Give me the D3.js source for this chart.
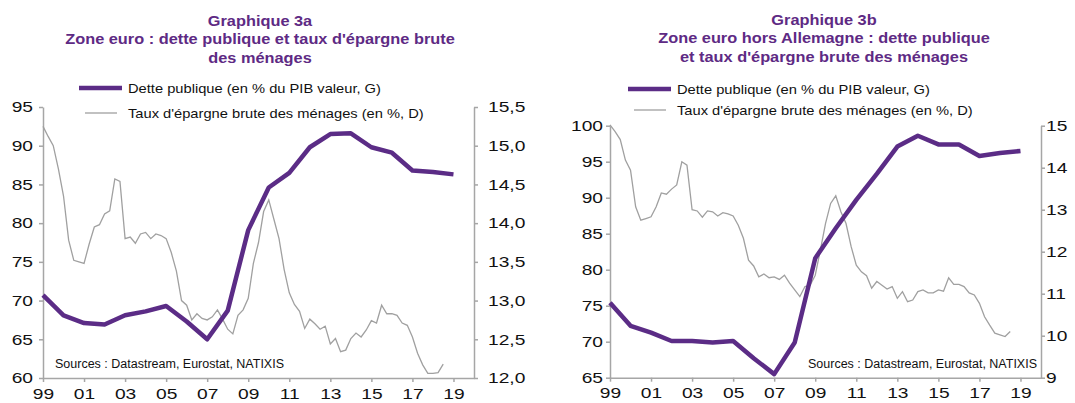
<!DOCTYPE html>
<meta charset="utf-8">
<style>
  body { margin: 0; background: #fff; }
  text { font-family: "Liberation Sans", Arial, sans-serif; fill: #111; }
  .title { font-weight: bold; font-size: 15px; fill: #5e2a84; }
  .legend { font-size: 13px; }
  .src { font-size: 12.5px; }
  .axis path, .axis line { stroke: #a6a6a6; stroke-width: 1.5px; }
  .axis text { font-size: 15px; fill: #111; }
  .debt { fill: none; stroke: #5b2c86; stroke-width: 4.5px; stroke-linejoin: round; }
  .saving { fill: none; stroke: #a0a0a0; stroke-width: 1.3px; }
</style>
<svg width="1075" height="403"></svg>
<script src="https://d3js.org/d3.v7.min.js"></script>
<script>
var svg = d3.select("svg");

// ---- data -------------------------------------------------------------
var years = [1999, 2000, 2001, 2002, 2003, 2004, 2005, 2006, 2007, 2008, 2009,
             2010, 2011, 2012, 2013, 2014, 2015, 2016, 2017, 2018, 2019];
var yearTicks = [1999, 2001, 2003, 2005, 2007, 2009, 2011, 2013, 2015, 2017, 2019];
var firstQuarter = 1999;   // saving series is quarterly, starting 1999Q1

// Graphique 3a : zone euro
var debtEZ = [70.7, 68.1, 67.1, 66.9, 68.1, 68.6, 69.3, 67.3, 65.0, 68.7, 79.1,
              84.6, 86.5, 89.8, 91.5, 91.6, 89.8, 89.1, 86.8, 86.6, 86.3];
var savingEZ = [15.25, 15.12, 15.0, 14.7,
                14.35, 13.78, 13.52, 13.5,
                13.48, 13.73, 13.95, 13.98,
                14.12, 14.16, 14.57, 14.54,
                13.8, 13.82, 13.74, 13.86,
                13.88, 13.8, 13.86, 13.84,
                13.8, 13.62, 13.38, 13.0,
                12.94, 12.75, 12.83, 12.77,
                12.75, 12.79, 12.88, 12.76,
                12.63, 12.57, 12.81, 12.88,
                13.03, 13.48, 13.75, 14.15,
                14.3, 14.05, 13.8, 13.4,
                13.1, 12.95, 12.86, 12.64,
                12.76, 12.7, 12.63, 12.67,
                12.44, 12.51, 12.34, 12.36,
                12.51, 12.58, 12.53, 12.62,
                12.74, 12.71, 12.94, 12.83,
                12.83, 12.81, 12.71, 12.68,
                12.53, 12.32, 12.17, 12.06,
                12.06, 12.07, 12.18];
var ticksLeftEZ = [60, 65, 70, 75, 80, 85, 90, 95];
var ticksRightEZ = [12.0, 12.5, 13.0, 13.5, 14.0, 14.5, 15.0, 15.5];

// Graphique 3b : zone euro hors Allemagne
var debtXDE = [75.4, 72.2, 71.25, 70.1, 70.1, 69.9, 70.1, 67.7, 65.5, 69.9, 81.6,
               85.75, 89.7, 93.3, 97.1, 98.6, 97.4, 97.4, 95.8, 96.2, 96.5];
var savingXDE = [15.02, 14.86, 14.67, 14.18, 13.94, 13.07, 12.75, 12.79, 12.83, 13.07,
                 13.4, 13.37, 13.49, 13.59, 14.14, 14.06, 13.0, 12.97, 12.82, 12.97,
                 12.95, 12.85, 12.93, 12.9, 12.85, 12.63, 12.32, 11.8, 11.66, 11.4,
                 11.47, 11.38, 11.4, 11.34, 11.44, 11.25, 11.09, 10.93, 11.17, 11.2,
                 11.44, 12.04, 12.67, 13.15, 13.33, 12.95, 12.67, 12.12, 11.68, 11.52,
                 11.43, 11.13, 11.29, 11.2, 11.11, 11.17, 10.89, 11.05, 10.81, 10.85,
                 11.05, 11.09, 11.02, 11.02, 11.09, 11.06, 11.38, 11.22, 11.22, 11.17,
                 11.02, 10.97, 10.77, 10.45, 10.25, 10.06, 10.02, 9.98, 10.1];
var ticksLeftXDE = [65, 70, 75, 80, 85, 90, 95, 100];
var ticksRightXDE = [9, 10, 11, 12, 13, 14, 15];

var legendDebt = "Dette publique (en % du PIB valeur, G)";
var legendSaving = "Taux d'épargne brute des ménages (en %, D)";
var sources = "Sources : Datastream, Eurostat, NATIXIS";

// ---- helpers ----------------------------------------------------------
// the reference text is a bit wider than Arial, so glyphs get stretched
function stretch(sel, k) {
  sel.each(function() {
    var t = d3.select(this);
    var x = +t.attr("x") || 0;
    t.attr("x", x / k).attr("transform", "scale(" + k + ",1)");
  });
}

function commaFmt(d) { return d3.format(".1f")(d).replace(".", ","); }

function drawPanel(p) {
  var g = svg.append("g");

  var x = d3.scaleLinear().domain([1999, 2020]).range([p.left, p.right]);
  var yL = d3.scaleLinear().domain(p.leftDomain).range([p.bottom, p.top]);
  var yR = d3.scaleLinear().domain(p.rightDomain).range([p.bottom, p.top]);

  // titles
  p.titles.forEach(function(t, i) {
    g.append("text").attr("class", "title")
      .attr("x", p.titleX).attr("y", p.titleY[i])
      .attr("text-anchor", "middle")
      .text(t)
      .call(stretch, 1.09);
  });

  // legend
  g.append("line").attr("class", "debt").style("stroke-linecap", "butt")
    .attr("x1", p.legX - 49).attr("x2", p.legX - 6)
    .attr("y1", p.legY[0]).attr("y2", p.legY[0]);
  g.append("text").attr("class", "legend")
    .attr("x", p.legX).attr("y", p.legY[0] + 5).text(legendDebt).call(stretch, 1.13);
  g.append("line").attr("class", "saving")
    .attr("x1", p.legX - 43).attr("x2", p.legX - 11)
    .attr("y1", p.legY[1]).attr("y2", p.legY[1]);
  g.append("text").attr("class", "legend")
    .attr("x", p.legX).attr("y", p.legY[1] + 5).text(legendSaving).call(stretch, 1.13);

  // axes
  var axL = g.append("g").attr("class", "axis")
    .attr("transform", "translate(" + p.left + ",0)")
    .call(d3.axisLeft(yL).tickValues(p.leftTicks).tickSize(4).tickSizeOuter(0)
      .tickPadding(p.padL).tickFormat(d3.format("d")));
  var axR = g.append("g").attr("class", "axis")
    .attr("transform", "translate(" + p.right + ",0)")
    .call(d3.axisRight(yR).tickValues(p.rightTicks).tickSize(4).tickSizeOuter(0)
      .tickPadding(p.padR).tickFormat(p.rightFmt));
  var axB = g.append("g").attr("class", "axis")
    .attr("transform", "translate(0," + p.bottom + ")")
    .call(d3.axisBottom(x).tickValues(yearTicks).tickSize(4).tickSizeOuter(0)
      .tickPadding(6).tickFormat(function(d) { return String(d).slice(2); }));
  [axL, axR, axB].forEach(function(a) { a.selectAll("text").call(stretch, 1.28); });

  // series
  var savingLine = d3.line()
    .x(function(d, i) { return x(firstQuarter + i / 4); })
    .y(function(d) { return yR(d); });
  var debtLine = d3.line()
    .x(function(d, i) { return x(years[i]); })
    .y(function(d) { return yL(d); });

  g.append("path").datum(p.saving).attr("class", "saving").attr("d", savingLine);
  g.append("path").datum(p.debt).attr("class", "debt").attr("d", debtLine);

  g.append("text").attr("class", "src")
    .attr("x", p.srcX).attr("y", p.bottom - 10).text(sources);
}

drawPanel({
  left: 43, right: 474, top: 107, bottom: 378,
  leftDomain: [60, 95], rightDomain: [12, 15.5],
  leftTicks: ticksLeftEZ, rightTicks: ticksRightEZ, rightFmt: commaFmt,
  padL: 6, padR: 10,
  debt: debtEZ, saving: savingEZ,
  titles: ["Graphique 3a", "Zone euro : dette publique et taux d'épargne brute", "des ménages"],
  titleX: 260, titleY: [26, 44.5, 63],
  legX: 128, legY: [88, 113],
  srcX: 55
});

drawPanel({
  left: 610, right: 1041, top: 125.7, bottom: 377.7,
  leftDomain: [65, 100], rightDomain: [9, 15],
  leftTicks: ticksLeftXDE, rightTicks: ticksRightXDE, rightFmt: d3.format("d"),
  padL: 3, padR: 1,
  debt: debtXDE, saving: savingXDE,
  titles: ["Graphique 3b", "Zone euro hors Allemagne : dette publique", "et taux d'épargne brute des ménages"],
  titleX: 824, titleY: [25, 43.5, 62],
  legX: 677, legY: [89, 110],
  srcX: 808
});
</script>
